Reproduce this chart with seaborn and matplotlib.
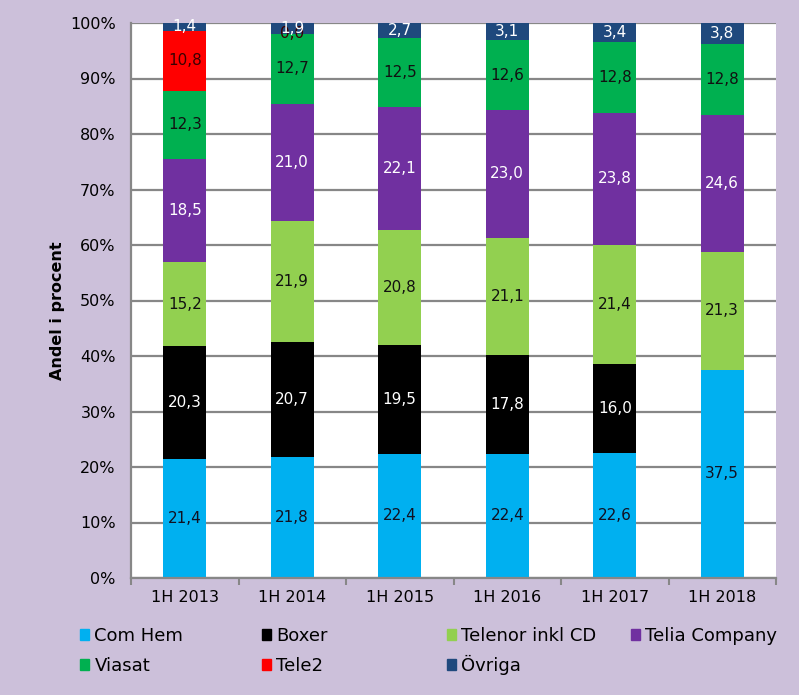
import pandas as pd
import matplotlib.pyplot as plt
import matplotlib.patches as mpatches
import seaborn as sns

years = ['1H 2013', '1H 2014', '1H 2015', '1H 2016', '1H 2017', '1H 2018']
operators = ['Com Hem', 'Boxer', 'Telenor inkl CD', 'Telia Company', 'Viasat', 'Tele2', 'Övriga']

com_hem = [21.4, 21.8, 22.4, 22.4, 22.6, 37.5]
boxer = [20.3, 20.7, 19.5, 17.8, 16.0, None]
telenor = [15.2, 21.9, 20.8, 21.1, 21.4, 21.3]
telia = [18.5, 21.0, 22.1, 23.0, 23.8, 24.6]
viasat = [12.3, 12.7, 12.5, 12.6, 12.8, 12.8]
tele2 = [10.8, 0.0, None, None, None, None]
ovriga = [1.4, 1.9, 2.7, 3.1, 3.4, 3.8]

series = [com_hem, boxer, telenor, telia, viasat, tele2, ovriga]
colors = ['#00B0F0', '#000000', '#92D050', '#7030A0', '#00B050', '#FF0000', '#1F497D']
label_colors = ['#111122', 'white', '#111111', 'white', '#111111', '#3a0000', 'white']


def run_chart():
    # long table, shares normalised to 100 % per half-year (100 % stacked)
    rows = []
    for op, vals in zip(operators, series):
        for yr, v in zip(years, vals):
            rows.append({'year': yr, 'operator': op, 'value': v})
    df = pd.DataFrame(rows)
    df['v'] = df['value'].fillna(0.0)
    df['share'] = df['v'] / df.groupby('year')['v'].transform('sum') * 100
    df['operator'] = pd.Categorical(df['operator'], operators, ordered=True)
    df = df.sort_values(['year', 'operator'])
    df['top'] = df.groupby('year')['share'].cumsum()
    df['mid'] = df['top'] - df['share'] / 2

    sns.set_theme(style="white")
    plt.rcParams['font.family'] = ['DejaVu Sans']

    fig = plt.figure(figsize=(7.99, 6.95), dpi=100, facecolor='#CCC0DA')
    ax = fig.add_axes([131 / 799, 117 / 695, 645 / 799, 555 / 695])
    ax.set_facecolor('white')

    # draw cumulative tops from the last series down so each lower one covers the rest
    for op, col in reversed(list(zip(operators, colors))):
        sub = df[df['operator'] == op]
        sns.barplot(data=sub, x='year', y='top', order=years, color=col,
                    width=0.4, saturation=1, ax=ax, errorbar=None, zorder=2,
                    linewidth=0, edgecolor='none')

    # value labels
    for op, lc in zip(operators, label_colors):
        sub = df[df['operator'] == op]
        for i, yr in enumerate(years):
            r = sub[sub['year'] == yr].iloc[0]
            if pd.isna(r['value']):
                continue
            txt = f"{r['value']:.1f}".replace('.', ',')
            ax.text(i, r['mid'], txt, ha='center', va='center', fontsize=11,
                    color=lc, zorder=3)

    ax.set_xlim(-0.5, 5.5)
    ax.set_ylim(0, 100)
    ax.set_yticks(range(0, 101, 10))
    ax.set_yticklabels([f"{t}%" for t in range(0, 101, 10)])
    ax.yaxis.grid(True, color='#878787', linewidth=1.6)
    ax.set_axisbelow(True)
    ax.set_xlabel('')
    ax.set_ylabel('Andel i procent', fontsize=11.5, fontweight='bold', color='black')
    ax.yaxis.set_label_coords(-0.102, 0.481)

    ax.set_xticks([i - 0.5 for i in range(7)], minor=True)
    ax.tick_params(axis='x', which='major', length=0, labelsize=11.5, pad=9, colors='black')
    ax.tick_params(axis='x', which='minor', bottom=True, length=5, width=1.5,
                   color='#878787', direction='out')
    ax.tick_params(axis='y', length=5, width=1.5, color='#878787', labelcolor='black',
                   labelsize=11.5, direction='out', pad=6)
    for s in ['top', 'right']:
        ax.spines[s].set_visible(False)
    for s in ['left', 'bottom']:
        ax.spines[s].set_color('#878787')
        ax.spines[s].set_linewidth(1.6)

    # legend: one entry each, at the fixed grid of the original (baselines aligned)
    col_x = [80, 262, 447, 631]
    row_y = [645, 675]
    for j, (op, col) in enumerate(zip(operators, colors)):
        x = col_x[j % 4]
        y = row_y[j // 4]
        fig.legend([mpatches.Patch(color=col)], [op], loc='lower left',
                   bbox_to_anchor=(x / 799, 1 - y / 695), labelcolor='black',
                   frameon=False, fontsize=13, handlelength=0.5, handleheight=0.62,
                   handletextpad=0.3, borderpad=0, borderaxespad=0)

    fig.savefig('out.png', dpi=100, facecolor=fig.get_facecolor())
    plt.close(fig)


if __name__ == "__main__":
    run_chart()
